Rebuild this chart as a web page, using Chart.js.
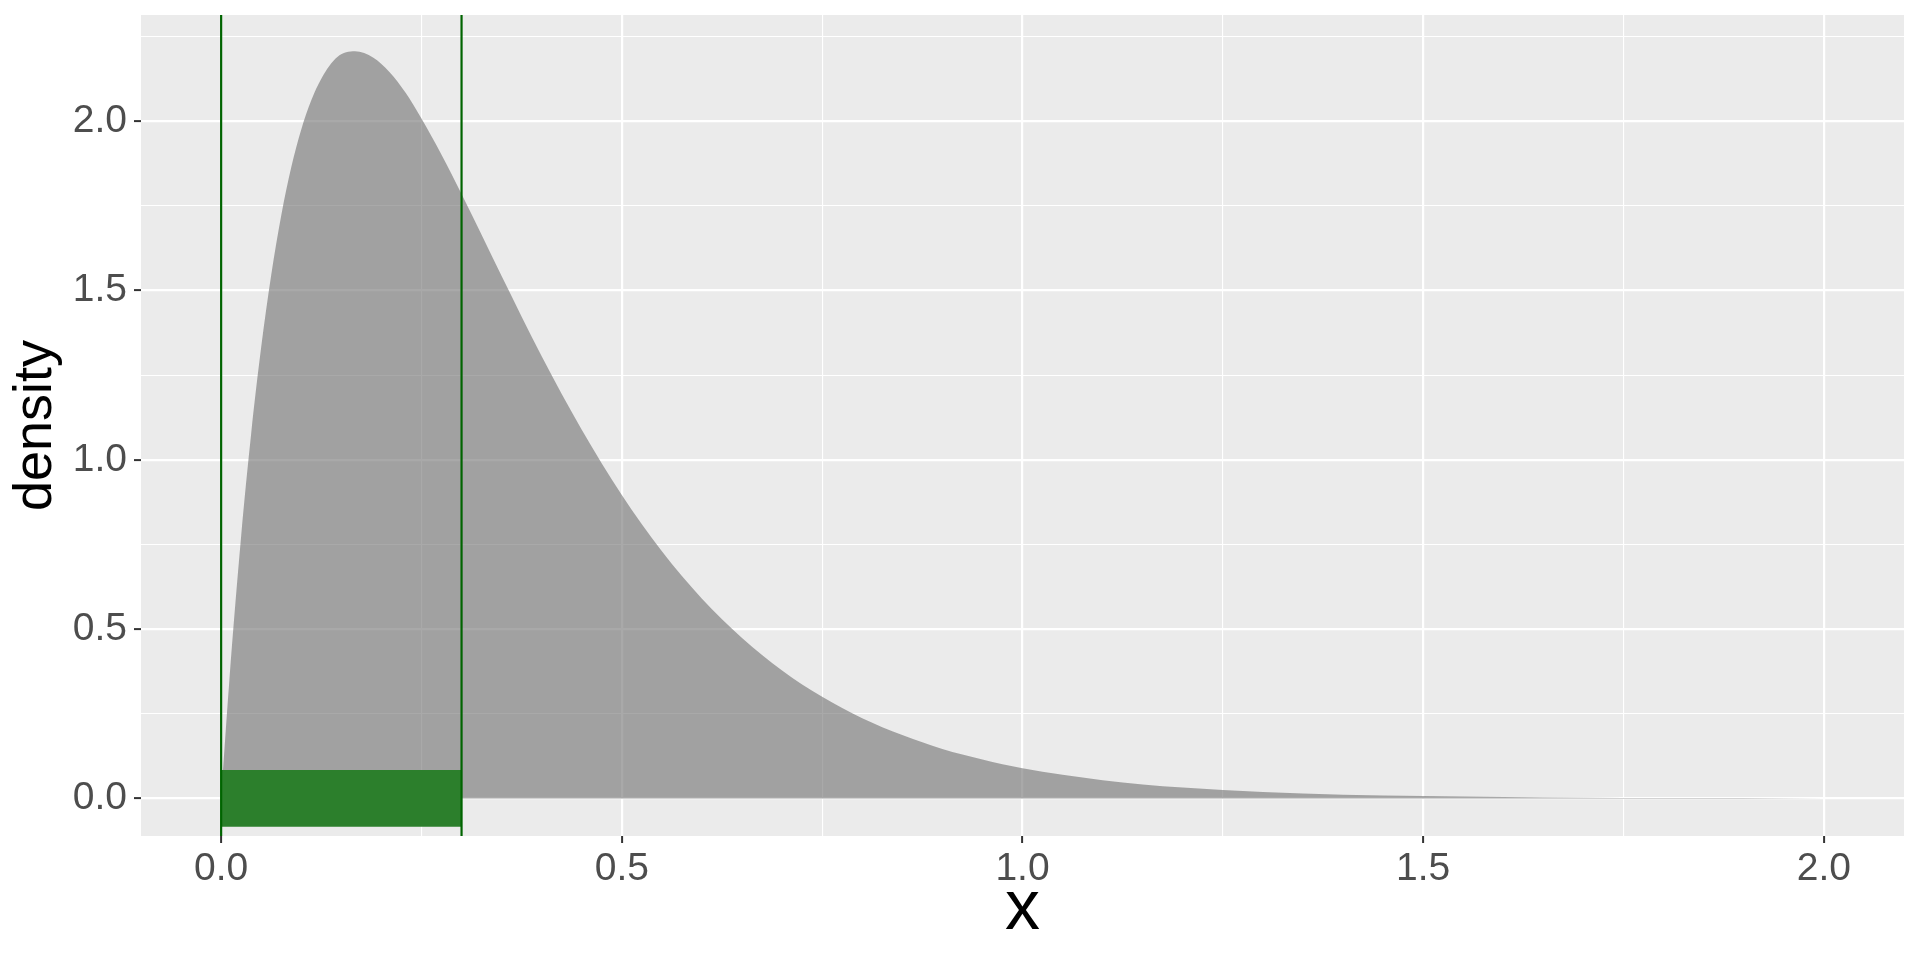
<!DOCTYPE html>
<html>
<head>
<meta charset="utf-8">
<script src="https://cdn.jsdelivr.net/npm/chart.js@4/dist/chart.umd.min.js"></script>
<style>
  body { margin: 0; background: #ffffff; }
  #wrap { width: 1920px; height: 960px; position: relative; }
</style>
</head>
<body>
<div id="wrap"><canvas id="chart"></canvas></div>
<script>
// density curve
const xValues = [0, 0.01, 0.025, 0.0375, 0.05, 0.0625, 0.075, 0.0875, 0.1, 0.1125, 0.125, 0.145, 0.167, 0.19, 0.21, 0.23, 0.25, 0.275, 0.3,
  0.35, 0.4, 0.45, 0.5, 0.55, 0.6, 0.65, 0.7, 0.75, 0.8, 0.85, 0.9, 0.95, 1.0,
  1.1, 1.2, 1.3, 1.4, 1.5, 1.6, 1.7, 1.8, 1.9, 2.0];
const densityValues = [0, 0.34, 0.775, 1.078, 1.333, 1.546, 1.722, 1.864, 1.976, 2.062, 2.126, 2.19, 2.207, 2.188, 2.146, 2.085, 2.008, 1.901, 1.785,
  1.543, 1.306, 1.089, 0.896, 0.73, 0.59, 0.474, 0.378, 0.3, 0.237, 0.187, 0.146, 0.115, 0.089,
  0.054, 0.032, 0.019, 0.011, 0.007, 0.004, 0.002, 0.001, 0.001, 0];

// green band and cut-off lines
const cutoffs = [0, 0.3];
const bandTop = 0.084;
const bandBottom = -0.084;

// axes
const xMajorTicks = [0, 0.5, 1, 1.5, 2];
const xMinorTicks = [0.25, 0.75, 1.25, 1.75];
const yMajorTicks = [0, 0.5, 1, 1.5, 2];
const yMinorTicks = [0.25, 0.75, 1.25, 1.75, 2.25];
const xMin = -0.1, xMax = 2.1;
const yMin = -0.111, yMax = 2.314;

const curve = xValues.map((x, i) => ({x: x, y: densityValues[i]}));

const panelBg = {
  id: 'panelBg',
  beforeDraw(chart) {
    const {ctx, chartArea} = chart;
    ctx.save();
    ctx.fillStyle = '#EBEBEB';
    ctx.fillRect(chartArea.left, chartArea.top, chartArea.right - chartArea.left, chartArea.bottom - chartArea.top);
    ctx.restore();
  }
};

function setTicks(major, minor) {
  return function(scale) {
    scale.ticks = major.concat(minor).sort((a, b) => a - b).map(v => ({value: v}));
  };
}

function gridOpts(major) {
  return {
    color: '#FFFFFF',
    lineWidth: c => (c.tick && major.includes(c.tick.value)) ? 2.2 : 1.1,
    tickColor: c => (c.tick && major.includes(c.tick.value)) ? '#333333' : 'rgba(0,0,0,0)',
    tickWidth: 2,
    tickLength: 7,
    drawOnChartArea: true
  };
}

function cutoffLine(x) {
  return {
    data: [{x: x, y: yMin}, {x: x, y: yMax}],
    borderColor: '#006400', borderWidth: 2.2, pointRadius: 0, fill: false, order: 0
  };
}

new Chart(document.getElementById('chart'), {
  type: 'line',
  data: {
    datasets: [
      cutoffLine(cutoffs[0]),
      cutoffLine(cutoffs[1]),
      {
        data: cutoffs.map(x => ({x: x, y: bandTop})),
        borderWidth: 0, borderColor: 'rgba(0,0,0,0)', pointRadius: 0,
        backgroundColor: '#2C7F2C', fill: '+1', order: 1
      },
      {
        data: cutoffs.map(x => ({x: x, y: bandBottom})),
        borderWidth: 0, borderColor: 'rgba(0,0,0,0)', pointRadius: 0, fill: false, order: 1
      },
      {
        data: curve,
        borderWidth: 0, borderColor: 'rgba(0,0,0,0)', pointRadius: 0,
        backgroundColor: 'rgba(112,112,112,0.6)', fill: 'origin',
        cubicInterpolationMode: 'monotone', order: 2
      }
    ]
  },
  options: {
    responsive: true,
    maintainAspectRatio: false,
    animation: false,
    layout: {padding: {top: 15, right: 16, left: 0, bottom: 0}},
    plugins: {legend: {display: false}, tooltip: {enabled: false}},
    scales: {
      x: {
        type: 'linear', min: xMin, max: xMax,
        afterBuildTicks: setTicks(xMajorTicks, xMinorTicks),
        afterFit: s => { s.height = 124; s.paddingLeft = 0; s.paddingRight = 0; },
        grid: gridOpts(xMajorTicks),
        border: {display: false},
        ticks: {
          autoSkip: false, maxRotation: 0, padding: 3, color: '#4D4D4D',
          font: {family: 'Liberation Sans, Arial, sans-serif', size: 39},
          callback: v => xMajorTicks.includes(v) ? v.toFixed(1) : ''
        },
        title: {
          display: true, text: 'x', color: '#000000',
          font: {family: 'Liberation Sans, Arial, sans-serif', size: 70, lineHeight: 1},
          padding: {top: 0, bottom: 15}
        }
      },
      y: {
        type: 'linear', min: yMin, max: yMax,
        afterBuildTicks: setTicks(yMajorTicks, yMinorTicks),
        afterFit: s => { s.width = 141; s.paddingTop = 0; s.paddingBottom = 0; },
        grid: gridOpts(yMajorTicks),
        border: {display: false},
        ticks: {
          autoSkip: false, padding: 7, color: '#4D4D4D',
          font: {family: 'Liberation Sans, Arial, sans-serif', size: 39},
          callback: v => yMajorTicks.includes(v) ? v.toFixed(1) : ''
        },
        title: {
          display: true, text: 'density', color: '#000000',
          font: {family: 'Liberation Sans, Arial, sans-serif', size: 54, lineHeight: 1},
          padding: {top: 9, bottom: 0}
        }
      }
    }
  },
  plugins: [panelBg]
});
</script>
</body>
</html>
